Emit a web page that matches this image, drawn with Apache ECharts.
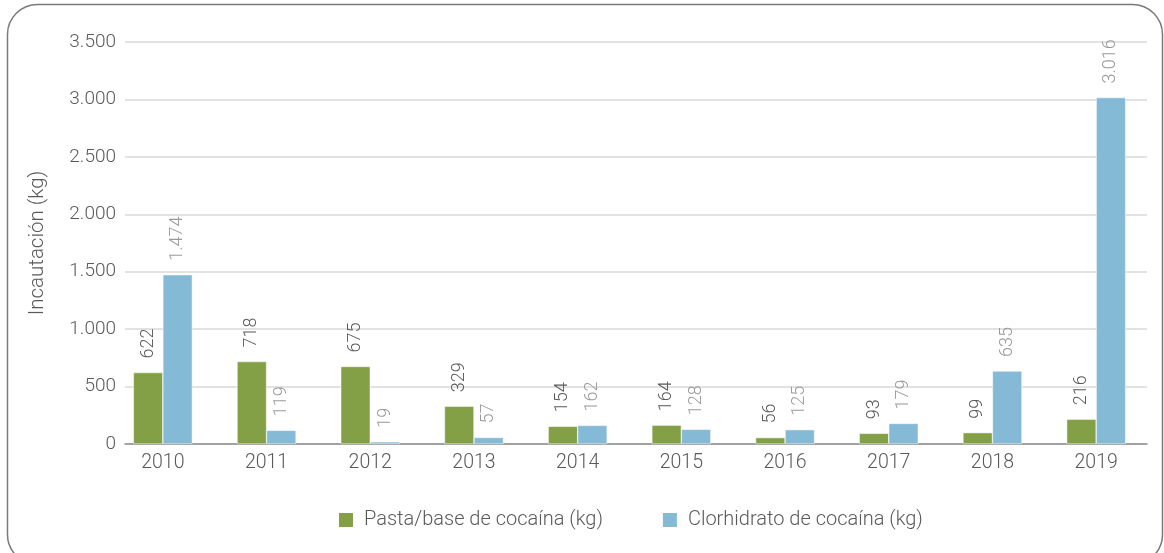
<!DOCTYPE html>
<html><head><meta charset="utf-8">
<script src="https://cdn.jsdelivr.net/npm/echarts@6/dist/echarts.min.js"></script>
<style>html,body{margin:0;padding:0;background:#fff}#c{width:1164px;height:553px}</style>
</head><body><div id="c"></div>
<script>
const years = ['2010','2011','2012','2013','2014','2015','2016','2017','2018','2019'];
const pasta = [622,718,675,329,154,164,56,93,99,216];
const clorhidrato = [1474,119,19,57,162,128,125,179,635,3016];
const seriesNames = ['Pasta/base de cocaína (kg)','Clorhidrato de cocaína (kg)'];
const yTitle = 'Incautación (kg)';

const fmt = v => String(v).replace(/\B(?=(\d{3})+(?!\d))/g, '.');
const FONT = 'Roboto';
const chart = echarts.init(document.getElementById('c'));
chart.setOption({
  animation: false,
  textStyle: {fontFamily: FONT},
  graphic: [{type:'rect', shape:{x:7.5,y:4.5,width:1155,height:560,r:30}, style:{fill:'none',stroke:'#7a7a7a',lineWidth:1.5}, silent:true}],
  grid: [
    {left:125, right:17, top:42, bottom:109},
    {left:111, right:16, top:42, bottom:109}
  ],
  xAxis: [
    {gridIndex:0, type:'category', data:years, axisLine:{lineStyle:{color:'#8c8c8c',width:1.5}}, axisTick:{show:false}, axisLabel:{show:false}},
    {gridIndex:1, type:'category', data:years, axisLine:{show:false}, axisTick:{show:false},
     axisLabel:{color:'#595959', fontSize:19.5, fontWeight:300, margin:9}}
  ],
  yAxis: [
    {gridIndex:0, type:'value', min:0, max:3500, interval:500, axisLine:{show:false}, axisTick:{show:false},
     splitLine:{lineStyle:{color:'#d9d9d9',width:1.5}},
     axisLabel:{color:'#595959', fontSize:19, fontWeight:300, margin:9, formatter: fmt},
     name: yTitle, nameLocation:'middle', nameGap:77, nameTextStyle:{color:'#595959', fontSize:20.5, fontWeight:300}},
    {gridIndex:1, type:'value', min:0, max:3500, interval:500, show:false}
  ],
  legend: {bottom:18, left:332, itemWidth:16, itemHeight:16, itemGap:58,
    icon:'rect', textStyle:{color:'#595959', fontSize:20, fontWeight:300, fontFamily:FONT, padding:[0,0,0,5]}},
  series: [
    {name:seriesNames[0], type:'bar', xAxisIndex:1, yAxisIndex:1, data:pasta, barWidth:29.5, barGap:'0%',
     itemStyle:{color:'#84a046', borderColor:'#ffffff', borderWidth:0.5},
     label:{show:true, position:'top', rotate:90, align:'left', verticalAlign:'middle', distance:14,
       color:'#595959', fontSize:18, fontWeight:300, formatter: p => fmt(p.value)}},
    {name:seriesNames[1], type:'bar', xAxisIndex:1, yAxisIndex:1, data:clorhidrato, barWidth:29.5, barGap:'0%',
     itemStyle:{color:'#84bad6', borderColor:'#ffffff', borderWidth:0.5},
     label:{show:true, position:'top', rotate:90, align:'left', verticalAlign:'middle', distance:14,
       color:'#9a9a9a', fontSize:18, fontWeight:300, formatter: p => fmt(p.value)}}
  ]
});
</script></body></html>
